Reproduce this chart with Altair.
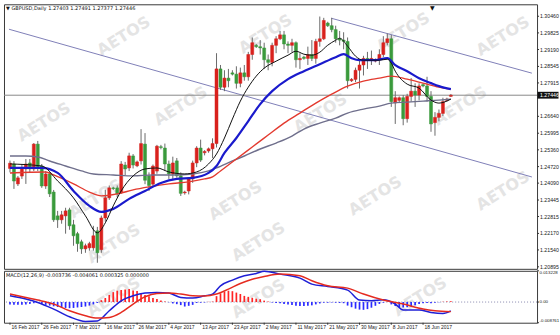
import altair as alt
import pandas as pd

# ---------------- data ----------------
bars = list(range(112))
opens = [1.2465,1.2482,1.2406,1.2436,1.2463,1.2486,1.2463,1.2558,1.2474,1.2398,
         1.2444,1.2375,1.2284,1.2269,1.2284,1.2307,1.2250,1.2216,1.2185,1.2158,
         1.2162,1.2162,1.2227,1.2155,1.2276,1.2353,1.2391,1.2391,1.2372,1.2478,
         1.2467,1.2513,1.2475,1.2494,1.2558,1.2436,1.2405,1.2455,1.2548,1.2543,
         1.2482,1.2444,1.2494,1.2437,1.2372,1.2379,1.2425,1.2486,1.2543,1.2525,
         1.2532,1.2540,1.2560,1.2845,1.2775,1.2810,1.2830,1.2825,1.2790,1.2830,
         1.2815,1.2900,1.2935,1.2930,1.2925,1.2880,1.2870,1.2935,1.2960,1.2975,
         1.2940,1.2935,1.2945,1.2880,1.2890,1.2885,1.2900,1.2885,1.2950,1.2960,
         1.3020,1.3010,1.2995,1.2960,1.2955,1.2950,1.2800,1.2805,1.2840,1.2860,
         1.2885,1.2880,1.2875,1.2880,1.2900,1.2945,1.2960,1.2715,1.2725,1.2735,
         1.2655,1.2740,1.2760,1.2745,1.2785,1.2780,1.2740,1.2640,1.2660,1.2675,
         1.2725,1.27403]
highs = [1.2495,1.2493,1.2436,1.2482,1.2501,1.2501,1.2562,1.2570,1.2482,1.2455,
         1.2452,1.2383,1.2303,1.2303,1.2315,1.2315,1.2269,1.2223,1.2193,1.2178,
         1.2185,1.2246,1.2242,1.2285,1.2384,1.2400,1.2395,1.2400,1.2493,1.2490,
         1.2525,1.2520,1.2495,1.2615,1.2600,1.2450,1.2480,1.2555,1.2555,1.2560,
         1.2495,1.2510,1.2505,1.2450,1.2380,1.2430,1.2495,1.2550,1.2575,1.2535,
         1.2545,1.2580,1.2905,1.2860,1.2840,1.2845,1.2840,1.2855,1.2850,1.2860,
         1.2910,1.2965,1.2940,1.2955,1.2945,1.2900,1.2945,1.2970,1.2990,1.2990,
         1.2950,1.2960,1.2950,1.2905,1.2895,1.2930,1.2955,1.2960,1.3045,1.3040,
         1.3025,1.3040,1.3010,1.2990,1.2985,1.2965,1.2810,1.2850,1.2880,1.2895,
         1.2910,1.2915,1.2885,1.2920,1.2970,1.2980,1.2975,1.2760,1.2740,1.2745,
         1.2750,1.2810,1.2790,1.2790,1.2790,1.2815,1.2760,1.2680,1.2690,1.2735,
         1.2735,1.27491]
lows = [1.2450,1.2387,1.2398,1.2425,1.2406,1.2448,1.2455,1.2455,1.2391,1.2387,
        1.2356,1.2261,1.2238,1.2254,1.2216,1.2231,1.2170,1.2147,1.2139,1.2143,
        1.2151,1.2151,1.2105,1.2143,1.2262,1.2345,1.2383,1.2355,1.2368,1.2440,
        1.2455,1.2465,1.2470,1.2480,1.2405,1.2379,1.2398,1.2445,1.2538,1.2455,
        1.2425,1.2420,1.2430,1.2360,1.2365,1.2366,1.2410,1.2470,1.2490,1.2515,
        1.2525,1.2505,1.2545,1.2765,1.2760,1.2775,1.2820,1.2770,1.2775,1.2800,
        1.2800,1.2880,1.2925,1.2900,1.2845,1.2840,1.2855,1.2905,1.2955,1.2920,
        1.2905,1.2910,1.2850,1.2845,1.2880,1.2860,1.2875,1.2865,1.2930,1.2955,
        1.3005,1.2985,1.2945,1.2935,1.2920,1.2770,1.2795,1.2795,1.2770,1.2820,
        1.2845,1.2860,1.2870,1.2860,1.2890,1.2935,1.2700,1.2635,1.2715,1.2630,
        1.2640,1.2720,1.2700,1.2725,1.2775,1.2720,1.2605,1.2590,1.2645,1.2665,
        1.2720,1.27377]
closes = [1.2485,1.2417,1.2429,1.2467,1.2482,1.2463,1.2558,1.2467,1.2398,1.2444,
          1.2368,1.2269,1.2269,1.2288,1.2303,1.2246,1.2208,1.2178,1.2158,1.2170,
          1.2178,1.2208,1.2143,1.2276,1.2353,1.2391,1.2388,1.2368,1.2482,1.2463,
          1.2513,1.2478,1.2490,1.2560,1.2420,1.2400,1.2474,1.2550,1.2545,1.2482,
          1.2444,1.2486,1.2437,1.2370,1.2375,1.2425,1.2486,1.2543,1.2497,1.2530,
          1.2540,1.2560,1.2845,1.2775,1.2810,1.2800,1.2825,1.2790,1.2830,1.2815,
          1.2900,1.2945,1.2930,1.2925,1.2880,1.2870,1.2935,1.2960,1.2975,1.2940,
          1.2935,1.2945,1.2880,1.2885,1.2885,1.2900,1.2885,1.2950,1.2960,1.3030,
          1.3010,1.2995,1.2960,1.2955,1.2950,1.2800,1.2805,1.2840,1.2860,1.2885,
          1.2880,1.2885,1.2880,1.2900,1.2945,1.2960,1.2720,1.2735,1.2735,1.2655,
          1.2740,1.2760,1.2745,1.2780,1.2780,1.2740,1.2635,1.2660,1.2675,1.2720,
          1.2730,1.27446]

black_bars = [0,8,12,16,19,22,24,26,28,31,34,37,40,44,47,50,52,54,56,58,60,62,64,67,70,72,74,76,78,80,82,83,85,87,89,93,95,96,97,100,103,106,108,111]
black_vals = [1.24822,1.24745,1.24174,1.23526,1.22841,1.22193,1.22574,1.23221,1.23793,1.24365,1.24631,1.24669,1.24517,1.24441,1.24517,1.24822,1.25202,1.25812,1.26536,1.27221,1.27754,1.28175,1.28479,1.28745,1.28974,1.29126,1.29012,1.28974,1.29088,1.29355,1.29545,1.29622,1.29317,1.28936,1.28783,1.28783,1.28821,1.28669,1.28364,1.27869,1.27716,1.27259,1.27145,1.27297]
blue_bars = [0,8,12,16,20,23,26,30,34,38,42,46,50,52,54,57,60,63,66,70,74,78,82,84,86,88,92,95,97,100,103,106,108,111]
blue_vals = [1.24669,1.24669,1.24479,1.23793,1.23221,1.22993,1.23107,1.23488,1.23793,1.24098,1.24250,1.24288,1.24479,1.24745,1.25241,1.25812,1.26459,1.27107,1.27602,1.28059,1.28364,1.28631,1.28898,1.29012,1.28860,1.28783,1.28783,1.28860,1.28593,1.28364,1.28097,1.27907,1.27792,1.27678]
red_bars = [0,9,11,16,20,23,27,31,35,40,45,49,51,53,57,61,65,69,73,77,81,85,89,93,96,100,104,108,111]
red_vals = [1.24479,1.24517,1.24403,1.24060,1.23750,1.23603,1.23679,1.23831,1.23945,1.24060,1.24136,1.24250,1.24327,1.24555,1.25012,1.25469,1.25926,1.26383,1.26764,1.27145,1.27488,1.27792,1.27983,1.28097,1.28175,1.28059,1.27907,1.27754,1.27678]
gray_bars = [0,4,7,10,14,18,21,26,31,36,41,46,50,52,56,59,63,67,71,74,78,82,85,89,93,96,100,104,108,111]
gray_vals = [1.25126,1.25126,1.25088,1.24936,1.24745,1.24555,1.24441,1.24403,1.24365,1.24403,1.24403,1.24441,1.24555,1.24669,1.24936,1.25126,1.25393,1.25621,1.25888,1.26155,1.26383,1.26574,1.26764,1.26916,1.27030,1.27145,1.27183,1.27221,1.27259,1.27297]

upper_bars = [80.9, 131.4]
upper_vals = [1.30384, 1.28288]
lower_bars = [-0.25, 131.4]
lower_vals = [1.29965, 1.24325]

last_price = [1.27446]
price_ticks = [1.30460,1.29825,1.29190,1.28545,1.27915,1.26640,1.25995,1.25360,
               1.24720,1.24090,1.23445,1.22815,1.22170,1.21540,1.20895]

hist_vals = [-0.0010,-0.0011,-0.0012,-0.0012,-0.0010,-0.0008,-0.0005,-0.0004,-0.0008,-0.0012,
             -0.0015,-0.0018,-0.0021,-0.0024,-0.0025,-0.0026,-0.0025,-0.0023,-0.0021,-0.0019,
             -0.0015,-0.0010,-0.0004,0.0008,0.0017,0.0030,0.0042,0.0048,0.0051,0.0053,
             0.0055,0.0049,0.0047,0.0038,0.0030,0.0025,0.0017,0.0013,0.0006,0.0002,
             -0.0001,-0.0006,-0.0009,-0.0013,-0.0019,-0.0016,-0.0012,-0.0004,-0.0003,-0.0002,
             0.0001,0.0002,0.0025,0.0037,0.0043,0.0048,0.0046,0.0040,0.0034,0.0026,
             0.0022,0.0018,0.0014,0.0012,0.0006,0.0002,-0.0002,-0.0004,-0.0005,-0.0008,
             -0.0010,-0.0013,-0.0016,-0.0017,-0.0017,-0.0016,-0.0014,-0.0010,-0.0006,-0.0003,
             -0.0003,-0.0002,-0.0003,-0.0004,-0.0005,-0.0015,-0.0022,-0.0028,-0.0032,-0.0033,
             -0.0030,-0.0024,-0.0016,-0.0008,-0.0003,0.0002,-0.0010,-0.0017,-0.0021,-0.0023,
             -0.0022,-0.0019,-0.0014,-0.0008,-0.0005,-0.0004,-0.0005,-0.0003,-0.0001,0.0001,
             0.0002,0.000325]
macd_bars = [0,4,7,11,15,19,22,25,28,31,34,37,40,43,46,49,51,53,56,59,62,64,68,73,76,80,85,88,91,94,97,99,103,106,109,111]
macd_vals = [0.00265,0.00126,-0.00018,-0.00298,-0.00623,-0.00820,-0.00800,-0.00369,0.00054,0.00265,0.00379,0.00405,0.00379,0.00193,0.00168,0.00265,0.00337,0.00688,0.00929,0.01111,0.01209,0.01300,0.01183,0.01014,0.00760,0.00659,0.00506,0.00083,0.00054,0.00096,-0.00086,-0.00340,-0.00340,-0.00441,-0.00483,-0.003736]
signal_bars = [0,4,7,11,15,19,22,25,28,31,34,37,40,43,46,49,52,55,58,61,64,68,73,76,80,85,89,94,99,104,107,111]
signal_vals = [0.00337,0.00193,0.00083,-0.00086,-0.00369,-0.00581,-0.00679,-0.00652,-0.00441,-0.00086,0.00223,0.00363,0.00379,0.00337,0.00265,0.00252,0.00337,0.00549,0.00786,0.00963,0.01082,0.01183,0.01111,0.00900,0.00688,0.00590,0.00337,0.00083,-0.00086,-0.00298,-0.00369,-0.004061]
macd_ticks = [0.013228, 0.0, -0.008761]
macd_tick_labels = ["0.013228", "0.00", "-0.008761"]

tick_bars = [0,8,16,24,32,40,48,56,64,72,80,88,96,104]
tick_labels = ["16 Feb 2017","26 Feb 2017","7 Mar 2017","16 Mar 2017","26 Mar 2017",
               "4 Apr 2017","13 Apr 2017","23 Apr 2017","2 May 2017","11 May 2017",
               "21 May 2017","30 May 2017","8 Jun 2017","18 Jun 2017"]

main_title = "\u25bc GBPUSD,Daily  1.27403 1.27491 1.27377 1.27446"
macd_title = "MACD(12,26,9) -0.003736 -0.004061 0.000325 0.000000"

# ---------------- styling ----------------
W, H_MAIN, H_MACD = 534, 265, 52
UP, DOWN, WICK = "#d9211d", "#3a9a3c", "#6a6a6a"
FONT = "Liberation Sans"
AX = "#333333"
LBL = "#1a1a1a"

x_scale = alt.Scale(domain=[-0.25, 131.44], nice=False, zero=False)
y_scale = alt.Scale(domain=[1.20819, 1.30917], nice=False, zero=False)
m_scale = alt.Scale(domain=[-0.008761, 0.013228], nice=False, zero=False)


def xq():
    return alt.X("bar:Q", scale=x_scale, axis=None)


def yq(field, scale=y_scale):
    return alt.Y(field, scale=scale, axis=None)


candles = pd.DataFrame(dict(bar=bars, open=opens, high=highs, low=lows, close=closes))

wicks = alt.Chart(candles).mark_rule(color=WICK, strokeWidth=1).encode(
    x=xq(), y=yq("low:Q"), y2="high:Q")
up_test = "datum.close >= datum.open"
bodies = alt.Chart(candles).mark_bar(size=3, strokeWidth=0.5).encode(
    x=xq(), y=yq("open:Q"), y2="close:Q",
    color=alt.condition(up_test, alt.value(UP), alt.value(DOWN)),
    stroke=alt.condition(up_test, alt.value(UP), alt.value(DOWN)))


def line(b, v, color, width, interp="monotone"):
    df = pd.DataFrame({"bar": b, "v": v})
    return alt.Chart(df).mark_line(color=color, strokeWidth=width, interpolate=interp).encode(
        x=xq(), y=yq("v:Q"))


channel_up = line(upper_bars, upper_vals, "#7f7fb8", 1, "linear")
channel_lo = line(lower_bars, lower_vals, "#7f7fb8", 1, "linear")
ma_gray = line(gray_bars, gray_vals, "#6f6f8c", 1.4)
ma_red = line(red_bars, red_vals, "#e33a2f", 1.4)
ma_blue = line(blue_bars, blue_vals, "#1a1acc", 2.2)
ma_black = line(black_bars, black_vals, "#111111", 1)

# ---- right price scale drawn from the tick values ----
pt_df = pd.DataFrame({"v": price_ticks})
price_tick_marks = alt.Chart(pt_df).mark_rule(color=AX, strokeWidth=1).encode(
    x=alt.value(W), x2=alt.value(W + 2), y=yq("v:Q"))
price_tick_text = alt.Chart(pt_df).mark_text(
    fontSize=5.2, font=FONT, color=LBL, align="left", baseline="middle").encode(
    x=alt.value(W + 3), y=yq("v:Q"), text=alt.Text("v:Q", format=".5f"))

price_df = pd.DataFrame({"p": last_price})
price_rule = alt.Chart(price_df).mark_rule(color="#8a8a8a", strokeWidth=1).encode(y=yq("p:Q"))
price_box = alt.Chart(price_df).transform_calculate(
    lo="datum.p - 0.0013", hi="datum.p + 0.0013").mark_rect(color="#111111").encode(
    x=alt.value(W + 0.5), x2=alt.value(W + 21.5), y=yq("lo:Q"), y2="hi:Q")
price_txt = alt.Chart(price_df).mark_text(color="white", fontSize=5.2, font=FONT, align="left",
                                          baseline="middle").encode(
    x=alt.value(W + 3), y=yq("p:Q"), text=alt.Text("p:Q", format=".5f"))

title_txt = alt.Chart(pd.DataFrame({"t": [main_title]})).mark_text(
    fontSize=5, font="DejaVu Sans", align="left", baseline="middle", color="#111").encode(
    x=alt.value(2), y=alt.value(4), text="t:N")
shift_mark = alt.Chart(pd.DataFrame({"t": ["\u25bc"]})).mark_text(
    fontSize=6, font="DejaVu Sans", align="center", baseline="top", color="#111").encode(
    x=alt.value(429), y=alt.value(0.5), text="t:N")

wm_main = [(120, 32), (262, 30), (400, 28), (500, 32),
           (40, 118), (177, 102), (317, 109), (457, 102),
           (92, 195), (232, 197), (372, 192), (500, 187),
           (110, 240), (255, 238)]
wm_macd = [(110, 26), (255, 28), (417, 26)]


def watermarks(points):
    layers = []
    for (px, py) in points:
        layers.append(alt.Chart(pd.DataFrame({"t": ["AETOS"]})).mark_text(
            fontSize=16, fontWeight="bold", font="DejaVu Sans", angle=328, color="#e4e4e4",
            clip=True, align="center", baseline="middle").encode(
            x=alt.value(px), y=alt.value(py), text="t:N"))
    return layers


main = alt.layer(
    *watermarks(wm_main),
    channel_up, channel_lo, price_rule, wicks, bodies,
    ma_gray, ma_red, ma_blue, ma_black,
    title_txt, shift_mark, price_tick_marks, price_tick_text, price_box, price_txt,
).properties(width=W, height=H_MAIN)

# ---------------- MACD panel ----------------
hist_df = pd.DataFrame({"bar": bars, "h": hist_vals})
hist = alt.Chart(hist_df).mark_bar(size=1.7).encode(
    x=xq(), y=yq("h:Q", m_scale), y2=alt.datum(0),
    color=alt.condition("datum.h >= 0", alt.value("#ff2424"), alt.value("#2a2aff")))
zero_rule = alt.Chart(pd.DataFrame({"z": [0.0]})).mark_rule(
    color="#8a8ab0", strokeDash=[1, 2], strokeWidth=1).encode(y=yq("z:Q", m_scale))


def mline(b, v, color, width):
    df = pd.DataFrame({"bar": b, "v": v})
    return alt.Chart(df).mark_line(color=color, strokeWidth=width, interpolate="monotone").encode(
        x=xq(), y=yq("v:Q", m_scale))


macd_line = mline(macd_bars, macd_vals, "#1f1fd6", 1.5)
signal_line = mline(signal_bars, signal_vals, "#e52b20", 1.5)
macd_txt = alt.Chart(pd.DataFrame({"t": [macd_title]})).mark_text(
    fontSize=5, font="DejaVu Sans", align="left", baseline="middle", color="#111").encode(
    x=alt.value(2), y=alt.value(4.5), text="t:N")

# right scale of the MACD window (top / zero / bottom labels)
mt_df = pd.DataFrame({"v": macd_ticks, "t": macd_tick_labels})
macd_tick_marks = alt.Chart(mt_df).mark_rule(color=AX, strokeWidth=1).encode(
    x=alt.value(W), x2=alt.value(W + 2), y=yq("v:Q", m_scale))
macd_lbl_layers = []
for idx, base in enumerate(["top", "middle", "bottom"]):
    macd_lbl_layers.append(
        alt.Chart(mt_df).transform_filter(alt.datum.t == macd_tick_labels[idx]).mark_text(
            fontSize=4.4, font=FONT, color=LBL, align="left", baseline=base).encode(
            x=alt.value(W + 2.5), y=yq("v:Q", m_scale), text="t:N"))

# time scale under the MACD window
dt_df = pd.DataFrame({"bar": tick_bars, "t": tick_labels})
date_ticks = alt.Chart(dt_df).mark_rule(color=AX, strokeWidth=1).encode(
    x=xq(), y=alt.value(H_MACD), y2=alt.value(H_MACD + 2))
date_text = alt.Chart(dt_df).mark_text(
    fontSize=5, font=FONT, color=LBL, align="left", baseline="top", dx=1.5).encode(
    x=xq(), y=alt.value(H_MACD + 2.5), text="t:N")

macd = alt.layer(
    *watermarks(wm_macd), zero_rule, hist, macd_line, signal_line, macd_txt,
    macd_tick_marks, *macd_lbl_layers, date_ticks, date_text,
).properties(width=W, height=H_MACD)

chart = alt.vconcat(main, macd, spacing=2, bounds="flush").properties(
    padding={"left": 3, "top": 3, "right": 0, "bottom": 0},
    background="white",
).configure_view(stroke="#3a3a3a", strokeWidth=1, fill="white")

chart.save("out.html", embed_options={"renderer": "svg", "actions": False})
